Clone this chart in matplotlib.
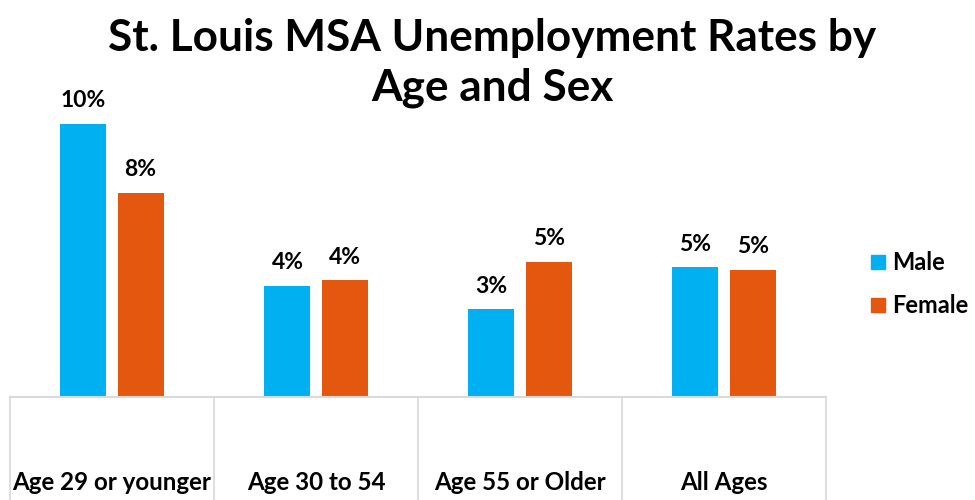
import numpy as np
import matplotlib.pyplot as plt
from matplotlib.lines import Line2D

plt.rcParams['font.family'] = ['Lato', 'DejaVu Sans']
plt.rcParams['font.weight'] = 'bold'

groups = ['Age 29 or younger', 'Age 30 to 54', 'Age 55 or Older', 'All Ages']
male = [10.3, 4.2, 3.3, 4.9]
female = [7.7, 4.4, 5.1, 4.8]
series = ['Male', 'Female']
title_lines = ['St. Louis MSA Unemployment Rates by', 'Age and Sex']

blue = '#00B0F0'
orange = '#E4570F'
grid_c = '#D9D9D9'

W, H = 975, 500
fig = plt.figure(figsize=(9.75, 5), dpi=100)

# bar area
ax = fig.add_axes([10/W, 103/H, 816/W, 297/H])
x = np.arange(len(groups))
off = 0.14
bw = 0.225
b1 = ax.bar(x - off, male, bw, color=blue)
b2 = ax.bar(x + off, female, bw, color=orange)
for bars, vals in ((b1, male), (b2, female)):
    for b, v in zip(bars, vals):
        ax.annotate('{:.0f}%'.format(v), (b.get_x() + b.get_width()/2, v),
                    xytext=(0, 9), textcoords='offset points',
                    ha='center', va='bottom', fontsize=16.5, fontweight='bold')
ax.set_xlim(-0.5, 3.5)
ax.set_ylim(0, 11.2)
ax.axis('off')

# category box under the bars
axc = fig.add_axes([10/W, 0, 816/W, 103/H])
axc.set_xlim(-0.5, 3.5)
axc.set_ylim(0, 103)
axc.axis('off')
axc.axhline(103, color=grid_c, lw=1.5, clip_on=False)
for xv in np.arange(-0.5, 4, 1):
    axc.plot([xv, xv], [0, 103], color=grid_c, lw=1.2, clip_on=False)
for i, g in enumerate(groups):
    axc.text(i, 17, g, ha='center', va='center', fontsize=17.4, fontweight='bold')

# title, one text per line
for ty, t in zip((38, 88), title_lines):
    fig.text(492/W, 1 - ty/H, t, ha='center', va='center',
             fontsize=31.8, fontweight='bold')

# legend
handles = [Line2D([], [], marker='s', ls='', color=c, markersize=10) for c in (blue, orange)]
fig.legend(handles, series, loc='center left', bbox_to_anchor=(857/W, 1 - 284/H),
           frameon=False, fontsize=17, handletextpad=0.1, labelspacing=0.85,
           handlelength=1.0, borderaxespad=0)

fig.savefig('out.png', dpi=100)
